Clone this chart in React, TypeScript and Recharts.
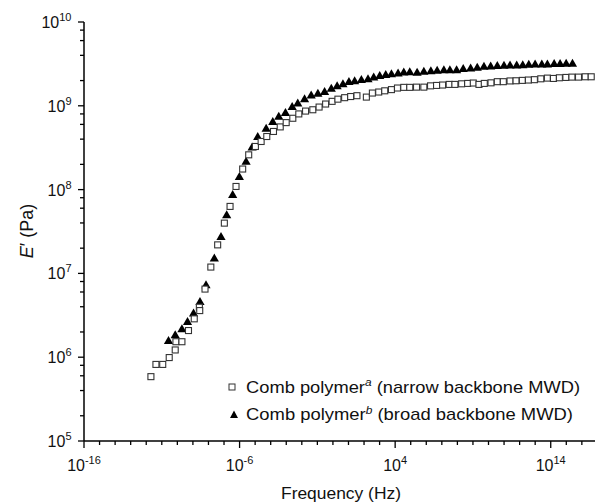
import React from "react";
import {ScatterChart, Scatter, XAxis, YAxis, Legend} from "recharts";

// narrow backbone MWD (open squares)
const narrowFreq = [
    2.0e-12, 4.2e-12, 1.15e-11, 3.0e-11, 7.3e-11, 8.1e-11, 1.97e-10, 5.2e-10, 1.22e-9, 2.6e-9,
    2.75e-9, 6.0e-9, 1.42e-8, 3.9e-8, 1.05e-7, 2.44e-7, 5.9e-7, 1.58e-6, 3.86e-6, 1.04e-5,
    2.43e-5, 5.6e-5, 1.51e-4, 4.1e-4, 9.9e-4, 2.64e-3, 6.4e-3, 1.74e-2, 5.1e-2, 0.129,
    0.339, 0.885, 2.09, 5.66, 13.8, 35, 141, 344, 877, 2140,
    5780, 1.41e4, 3.58e4, 8.7e4, 2.36e5, 6.97e5, 1.88e6, 4.58e6, 1.12e7, 2.97e7,
    6.9e7, 1.87e8, 4.56e8, 1.05e9, 2.44e9, 5.35e9, 1.45e10, 3.68e10, 8.96e10, 2.42e11,
    5.9e11, 1.5e12, 3.66e12, 8.9e12, 2.3e13, 6.1e13, 1.49e14, 3.6e14, 9.4e14, 2.3e15,
    6.1e15, 1.64e16, 4.0e16,
]
const narrowModulus = [
    5.86e5, 8.2e5, 8.2e5, 9.9e5, 1.22e6, 1.53e6, 1.53e6, 2.08e6, 2.87e6, 3.95e6,
    3.6e6, 6.5e6, 1.19e7, 2.19e7, 3.98e7, 6.3e7, 1.09e8, 1.76e8, 2.6e8, 3.27e8,
    3.75e8, 4.3e8, 4.94e8, 5.6e8, 6.3e8, 7.1e8, 8.0e8, 8.65e8, 8.97e8, 9.66e8,
    1.05e9, 1.13e9, 1.2e9, 1.25e9, 1.29e9, 1.32e9, 1.27e9, 1.42e9, 1.46e9, 1.51e9,
    1.56e9, 1.63e9, 1.66e9, 1.66e9, 1.67e9, 1.67e9, 1.73e9, 1.75e9, 1.77e9, 1.8e9,
    1.8e9, 1.83e9, 1.85e9, 1.87e9, 1.8e9, 1.85e9, 1.88e9, 1.94e9, 1.94e9, 1.98e9,
    1.99e9, 2.01e9, 2.03e9, 2.05e9, 2.1e9, 2.14e9, 2.12e9, 2.16e9, 2.18e9, 2.2e9,
    2.2e9, 2.22e9, 2.22e9,
]

// broad backbone MWD (filled triangles)
const broadFreq = [
    2.7e-11, 7.3e-11, 1.97e-10, 4.5e-10, 1.1e-9, 2.85e-9, 6.95e-9, 2.38e-8, 6.4e-8, 1.48e-7,
    3.6e-7, 9.7e-7, 2.62e-6, 6.4e-6, 1.47e-5, 5.1e-5, 1.36e-4, 3.3e-4, 8.9e-4, 2.4e-3,
    5.5e-3, 1.5e-2, 4.0e-2, 0.108, 0.291, 0.787, 1.86, 4.4, 10.7, 24.9,
    67.4, 180, 418, 1019, 2480, 5780, 1.54e4, 3.58e4, 8.7e4, 2.58e5,
    6.97e5, 1.97e6, 5.0e6, 1.35e7, 3.3e7, 8.9e7, 2.37e8, 7.1e8, 1.89e9, 5.1e9,
    1.38e10, 3.68e10, 9.9e10, 2.42e11, 6.5e11, 1.59e12, 3.88e12, 9.9e12, 2.67e13, 6.1e13,
    1.66e14, 4.0e14, 9.8e14, 2.5e15,
]
const broadModulus = [
    1.58e6, 1.85e6, 2.18e6, 2.66e6, 3.35e6, 4.6e6, 7.3e6, 1.52e7, 2.75e7, 5.0e7,
    8.7e7, 1.43e8, 2.17e8, 3.22e8, 4.3e8, 5.4e8, 6.5e8, 7.46e8, 8.3e8, 9.8e8,
    1.08e9, 1.21e9, 1.34e9, 1.41e9, 1.48e9, 1.62e9, 1.73e9, 1.83e9, 1.94e9, 1.99e9,
    2.05e9, 2.09e9, 2.2e9, 2.29e9, 2.35e9, 2.41e9, 2.46e9, 2.53e9, 2.55e9, 2.5e9,
    2.57e9, 2.62e9, 2.64e9, 2.69e9, 2.69e9, 2.69e9, 2.77e9, 2.82e9, 2.87e9, 2.95e9,
    2.98e9, 3.01e9, 3.03e9, 3.07e9, 3.07e9, 3.09e9, 3.12e9, 3.15e9, 3.15e9, 3.15e9,
    3.18e9, 3.18e9, 3.2e9, 3.2e9,
]

const xTicks = [
    1e-16, 1e-15, 1e-14, 1e-13, 1e-12, 1e-11, 1e-10, 1e-9, 1e-8, 1e-7, 1e-6,
    1e-5, 1e-4, 1e-3, 1e-2, 1e-1, 1, 1e1, 1e2, 1e3, 1e4,
    1e5, 1e6, 1e7, 1e8, 1e9, 1e10, 1e11, 1e12, 1e13, 1e14,
    1e15, 1e16,
]
const xLabelExps = [-16, -6, 4, 14]
const yTicks = [
    1e5, 2e5, 4e5, 6e5, 8e5,
    1e6, 2e6, 4e6, 6e6, 8e6,
    1e7, 2e7, 4e7, 6e7, 8e7,
    1e8, 2e8, 4e8, 6e8, 8e8,
    1e9, 2e9, 4e9, 6e9, 8e9,
    1e10,
]

const legendNames = ["Comb polymer", "Comb polymer"]
const legendSups = ["a", "b"]
const legendTails = [" (narrow backbone MWD)", " (broad backbone MWD)"]

const FONT = "'Liberation Sans', Arial, sans-serif"

const toPoints = (fs: number[], es: number[]) => fs.map((f, i) => ({f, E: es[i]}))
const narrowData = toPoints(narrowFreq, narrowModulus)
const broadData = toPoints(broadFreq, broadModulus)

const SquareMark = (p: any) =>
    <rect x={p.cx - 3} y={p.cy - 3} width={6} height={6} fill="#fff" stroke="#333" strokeWidth={1.1}/>

const TriangleMark = (p: any) =>
    <polygon points={`${p.cx},${p.cy - 4.6} ${p.cx + 4.6},${p.cy + 3.4} ${p.cx - 4.6},${p.cy + 3.4}`} fill="#000"/>

const XTick = (p: any) => {
    const e = Math.round(Math.log10(p.payload.value))
    const major = xLabelExps.includes(e)
    return <g>
        <line x1={p.x} y1={p.y} x2={p.x} y2={p.y + (major ? 7 : 4)} stroke="#000" strokeWidth={1.3}/>
        {major && <text x={p.x} y={p.y + 29.5} textAnchor="middle" fontFamily={FONT} fontSize={16} fill="#111">
            10<tspan dy={-7} fontSize={11}>{e}</tspan>
        </text>}
    </g>
}

const YTick = (p: any) => {
    const v = p.payload.value
    const e = Math.round(Math.log10(v))
    const major = Math.abs(v / Math.pow(10, e) - 1) < 1e-6
    return <g>
        <line x1={p.x - (major ? 6 : 4)} y1={p.y} x2={p.x} y2={p.y} stroke="#000" strokeWidth={1.3}/>
        {major && <text x={p.x - 12.5} y={p.y + 6} textAnchor="end" fontFamily={FONT} fontSize={16} fill="#111">
            10<tspan dy={-7} fontSize={11}>{e}</tspan>
        </text>}
    </g>
}

const LegendBox = () =>
    <svg width={595} height={503} style={{position: "absolute", left: 0, top: 0}}>
        <rect x={229} y={384} width={6} height={6} fill="#fff" stroke="#333" strokeWidth={1}/>
        <polygon points="234,410.5 238,418 230,418" fill="#000"/>
        {legendNames.map((n, i) =>
            <text key={i} x={246} y={392.5 + i * 27.5} fontFamily={FONT} fontSize={17} fill="#111"
                  textLength={i === 0 ? 334 : 327} lengthAdjust="spacingAndGlyphs">
                {n}<tspan dy={-6.5} fontSize={11} fontStyle="italic">{legendSups[i]}</tspan>
                <tspan dy={6.5}>{legendTails[i]}</tspan>
            </text>)}
    </svg>

export default function App() {
    return <div style={{position: "absolute", left: 0, top: 0, width: 595, height: 503, background: "#fff"}}>
        <ScatterChart width={595} height={503} margin={{top: 22, right: 0, bottom: 0, left: 0}}>
            <XAxis dataKey="f" type="number" scale="log" domain={[1e-16, 7e16]} ticks={xTicks}
                   interval={0} tickSize={0} tickMargin={0} tickLine={false} tick={<XTick/>}
                   height={62} axisLine={{stroke: "#000", strokeWidth: 1.5}} allowDataOverflow
                   label={{
                       content: () => <text x={341} y={499} textAnchor="middle" fontFamily={FONT}
                                            fontSize={17} fill="#111" textLength={120}
                                            lengthAdjust="spacingAndGlyphs">Frequency (Hz)</text>
                   }}/>
            <YAxis dataKey="E" type="number" scale="log" domain={[1e5, 1e10]} ticks={yTicks}
                   interval={0} tickSize={0} tickMargin={0} tickLine={false} tick={<YTick/>}
                   width={84} axisLine={{stroke: "#000", strokeWidth: 1.5}} allowDataOverflow
                   label={{
                       content: () => <text transform="translate(33,231) rotate(-90)" textAnchor="middle"
                                            fontFamily={FONT} fontSize={18} fill="#111">
                           <tspan fontStyle="italic">E</tspan>′ (Pa)</text>
                   }}/>
            <Legend layout="vertical" align="center" verticalAlign="middle" content={<LegendBox/>}
                    wrapperStyle={{left: 0, top: 0, width: 595, height: 503, pointerEvents: "none"}}/>
            <Scatter name="broad" data={broadData} shape={TriangleMark} isAnimationActive={false}/>
            <Scatter name="narrow" data={narrowData} shape={SquareMark} isAnimationActive={false}/>
        </ScatterChart>
    </div>
}
